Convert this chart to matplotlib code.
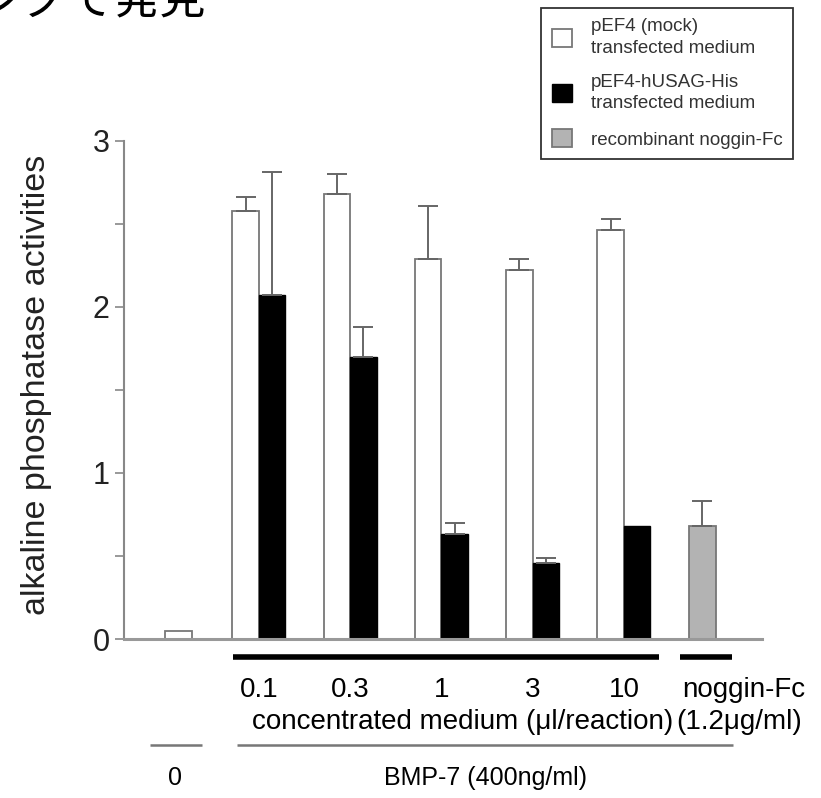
import numpy as np
import matplotlib
matplotlib.use("Agg")
import matplotlib.pyplot as plt

plt.rcParams['font.family'] = ['Liberation Sans', 'DejaVu Sans']

# values
conc_labels = ["0.1", "0.3", "1", "3", "10"]
mock_mean = np.array([2.58, 2.68, 2.29, 2.22, 2.46])
mock_err = np.array([0.08, 0.12, 0.32, 0.07, 0.07])
usag_mean = np.array([2.07, 1.70, 0.63, 0.46, 0.68])
usag_err = np.array([0.74, 0.18, 0.07, 0.03, 0.0])
control_mean = 0.05
noggin_mean = np.array([0.68])
noggin_err = np.array([0.15])

legend_labels = ["pEF4 (mock)\ntransfected medium",
                 "pEF4-hUSAG-His\ntransfected medium",
                 "recombinant noggin-Fc"]

fig = plt.figure(figsize=(8.21, 7.98), dpi=100)
ax = fig.add_axes([0.151, 0.1992, 0.777, 0.6244])

# layout
w = 0.29
group_x = np.arange(len(conc_labels))
control_x = -0.88
noggin_x = np.array([4.86])

ax.bar(control_x, control_mean, w, color="white", edgecolor="#777777", lw=1.3)
mock = ax.bar(group_x - w / 2, mock_mean, w, color="white", edgecolor="#777777", lw=1.3)
usag = ax.bar(group_x + w / 2, usag_mean, w, color="black", edgecolor="black", lw=1.0)
nog = ax.bar(noggin_x, noggin_mean, w, color="#b3b3b3", edgecolor="#777777", lw=1.3)

# upper error bars only
for xs, means, errs in [(group_x - w / 2, mock_mean, mock_err),
                        (group_x + w / 2, usag_mean, usag_err),
                        (noggin_x, noggin_mean, noggin_err)]:
    m = errs > 0
    ax.errorbar(xs[m], means[m], yerr=[np.zeros(m.sum()), errs[m]], fmt="none",
                ecolor="#666666", elinewidth=1.4, capsize=7.2, capthick=1.4, zorder=1)

ax.set_xlim(-1.479, 5.512)
ax.set_ylim(0, 3)
for s in ["top", "right"]:
    ax.spines[s].set_visible(False)
ax.spines["left"].set_color("#888888")
ax.spines["left"].set_linewidth(1.5)
ax.spines["bottom"].set_color("#999999")
ax.spines["bottom"].set_linewidth(2.2)

ax.set_xticks([])
ax.set_yticks([0, 1, 2, 3])
ax.set_yticks(np.arange(0.5, 3, 1), minor=True)
ax.tick_params(axis="y", which="both", direction="out", length=6.5, width=1.2,
               color="#888888", labelsize=22, pad=4, labelcolor="#222222")

ax.set_ylabel("alkaline phosphatase activities", fontsize=24.5, color="#222222")
ax.yaxis.set_label_coords(-0.113, 0.51)

# annotations under the axis
trans = ax.get_xaxis_transform()
for x, lab in zip(group_x, conc_labels):
    ax.text(x, -0.102, lab, ha="center", va="center", fontsize=20, transform=trans)
ax.text(5.31, -0.102, "noggin-Fc", ha="center", va="center", fontsize=20, transform=trans)
ax.text(4.54, -0.167, "concentrated medium (\u03bcl/reaction)", ha="right", va="center",
        fontsize=20, transform=trans)
ax.text(4.57, -0.167, "(1.2\u03bcg/ml)", ha="left", va="center", fontsize=20, transform=trans)

ax.plot([-0.28, 4.38], [-0.037, -0.037], color="black", lw=4, transform=trans,
        clip_on=False, solid_capstyle="butt")
ax.plot([4.62, 5.18], [-0.037, -0.037], color="black", lw=4, transform=trans,
        clip_on=False, solid_capstyle="butt")
ax.plot([-1.19, -0.62], [-0.213, -0.213], color="#777777", lw=1.8, transform=trans,
        clip_on=False, solid_capstyle="butt")
ax.plot([-0.24, 5.19], [-0.213, -0.213], color="#777777", lw=1.8, transform=trans,
        clip_on=False, solid_capstyle="butt")
ax.text(-0.92, -0.279, "0", ha="center", va="center", fontsize=18, transform=trans)
ax.text(2.48, -0.279, "BMP-7 (400ng/ml)", ha="center", va="center", fontsize=18,
        transform=trans)

leg = ax.legend([mock, usag, nog], legend_labels, loc="upper right",
                bbox_to_anchor=(793 / 821, 1 - 8 / 798), bbox_transform=fig.transFigure,
                borderaxespad=0, fontsize=13.5, frameon=True, fancybox=False,
                edgecolor="black", handlelength=1.1, handleheight=1.1,
                handletextpad=1.0, borderpad=0.55, labelspacing=0.9)
leg.get_frame().set_linewidth(1.3)
for t in leg.get_texts():
    t.set_color("#333333")
    t.set_linespacing(1.35)

fig.text(-23 / 821, 1 - 14 / 798, "ングで発見", fontsize=33, ha="left", va="baseline",
         family=["Noto Sans CJK JP", "DejaVu Sans"])

fig.savefig("out.png", dpi=100)
